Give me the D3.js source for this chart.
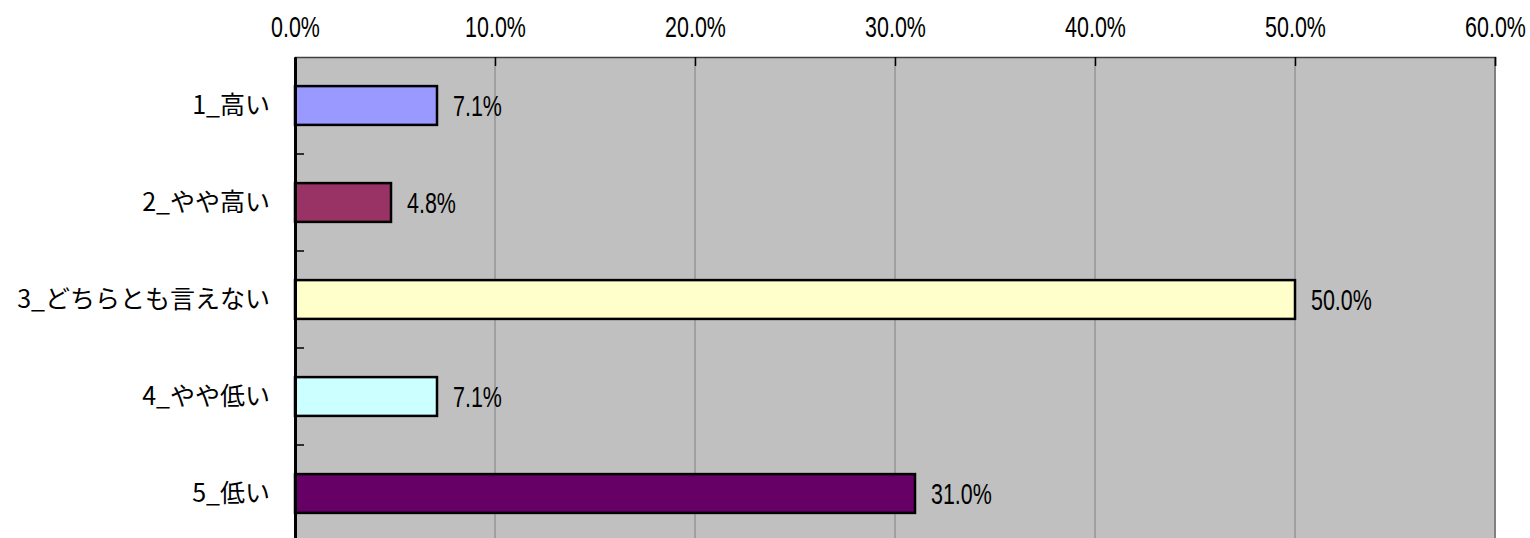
<!DOCTYPE html>
<html>
<head>
<meta charset="utf-8">
<script src="https://cdn.jsdelivr.net/npm/d3@7"></script>
<style>
  body { margin: 0; background: #fff; }
  .num { font-family: "Liberation Sans", Arial, sans-serif; fill: #000; }
  .cat { font-family: "Noto Sans CJK JP", sans-serif; fill: #000; }
</style>
</head>
<body>
<div id="chart"></div>
<script>
    // categories and values (percent)
    var categories = ["1_高い", "2_やや高い", "3_どちらとも言えない", "4_やや低い", "5_低い"];
    var values = [7.1, 4.8, 50.0, 7.1, 31.0];
    var barColors = ["#9999ff", "#993366", "#ffffcc", "#ccffff", "#660066"];
    var xTicks = [0, 10, 20, 30, 40, 50, 60];

    var width = 1530, height = 538;
    var margin = {top: 57, right: 35, bottom: -4, left: 295};
    var plotW = width - margin.left - margin.right,
        plotH = height - margin.top - margin.bottom;
    var squeeze = "scale(0.74,1)";   // narrow look for the numbers

    var svg = d3.select("#chart").append("svg")
        .attr("width", width)
        .attr("height", height);

    var g = svg.append("g")
        .attr("transform", "translate(" + margin.left + "," + margin.top + ")");

    var x = d3.scaleLinear().domain([0, 60]).range([0, plotW]);
    var y = d3.scaleBand().domain(categories).range([0, plotH]).paddingInner(0.6).paddingOuter(0.3);
    var yb = d3.scaleBand().domain(categories).range([0, plotH]);

    // plot background
    g.append("rect")
        .attr("width", plotW)
        .attr("height", plotH)
        .attr("fill", "#c0c0c0");

    // vertical gridlines
    g.append("g").selectAll("line")
        .data(xTicks.slice(1, -1))
        .enter().append("line")
          .attr("x1", function(d) { return x(d); })
          .attr("x2", function(d) { return x(d); })
          .attr("y1", 0).attr("y2", plotH)
          .attr("stroke", "#808080")
          .attr("stroke-width", 1);

    // right border
    g.append("line")
        .attr("x1", plotW).attr("x2", plotW)
        .attr("y1", 0).attr("y2", plotH)
        .attr("stroke", "#808080").attr("stroke-width", 2);

    // top axis
    var xAxis = d3.axisTop(x)
        .tickValues(xTicks)
        .tickSize(-9)
        .tickPadding(20)
        .tickFormat(function(d) { return d.toFixed(1) + "%"; });

    var ax = g.append("g").call(xAxis);
    ax.select(".domain").attr("stroke", "#404040").attr("stroke-width", 1.5);
    ax.selectAll(".tick line").attr("stroke", "#000").attr("stroke-width", 1.5);
    ax.selectAll(".tick text")
        .attr("class", "num")
        .attr("font-size", 29)
        .attr("fill", "#000")
        .attr("transform", squeeze);

    // bars
    g.append("g").selectAll("rect")
        .data(values)
        .enter().append("rect")
          .attr("x", x(0))
          .attr("y", function(d, i) { return y(categories[i]); })
          .attr("width", function(d) { return x(d) - x(0); })
          .attr("height", y.bandwidth())
          .attr("fill", function(d, i) { return barColors[i]; })
          .attr("stroke", "#000")
          .attr("stroke-width", 2.5);

    // value labels
    g.append("g").selectAll("g")
        .data(values)
        .enter().append("g")
          .attr("transform", function(d, i) {
            return "translate(" + (x(d) + 16) + "," + (y(categories[i]) + y.bandwidth() / 2) + ")";
          })
        .append("text")
          .attr("class", "num")
          .attr("font-size", 29)
          .attr("dy", "0.36em")
          .attr("transform", squeeze)
          .text(function(d) { return d.toFixed(1) + "%"; });

    // left axis
    var yAxis = d3.axisLeft(yb).tickSize(0).tickPadding(25);
    var ay = g.append("g").call(yAxis);
    ay.select(".domain").attr("stroke", "#000").attr("stroke-width", 3);
    ay.selectAll(".tick text")
        .attr("class", "cat")
        .attr("font-size", 25)
        .attr("fill", "#000");

    // inner ticks between categories
    g.append("g").selectAll("line")
        .data(categories.slice(1))
        .enter().append("line")
          .attr("x1", 0).attr("x2", 9)
          .attr("y1", function(d) { return yb(d); })
          .attr("y2", function(d) { return yb(d); })
          .attr("stroke", "#000")
          .attr("stroke-width", 1.5);
</script>
</body>
</html>
